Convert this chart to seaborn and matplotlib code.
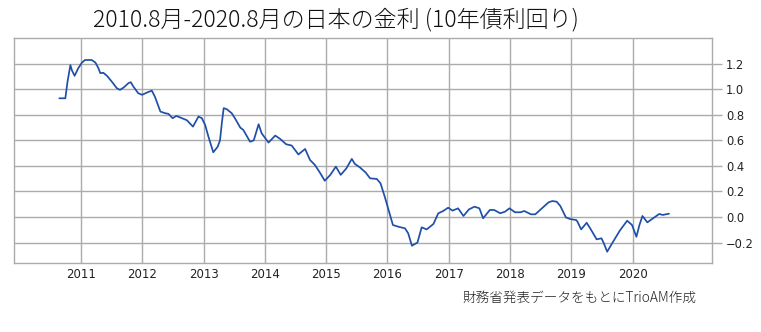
import matplotlib
matplotlib.use("Agg")
import matplotlib.pyplot as plt
import seaborn as sns
import pandas as pd

# ---- data ----
dates = [
    "2010-08-26", "2010-10-01", "2010-10-14", "2010-10-31", "2010-11-09", "2010-11-25", "2010-12-17",
    "2011-01-08", "2011-01-26", "2011-03-07", "2011-03-29", "2011-04-16", "2011-04-27", "2011-05-15",
    "2011-06-06", "2011-07-05", "2011-08-03", "2011-08-22", "2011-09-13", "2011-10-12", "2011-10-26",
    "2011-11-10", "2011-12-09", "2012-01-01", "2012-01-30", "2012-02-28", "2012-03-17", "2012-04-19",
    "2012-05-18", "2012-06-06", "2012-07-01", "2012-07-23", "2012-08-25", "2012-09-24", "2012-10-30",
    "2012-12-02", "2012-12-22", "2013-01-11", "2013-01-30", "2013-02-28", "2013-03-26", "2013-04-09",
    "2013-04-20", "2013-05-01", "2013-05-19", "2013-06-18", "2013-07-09", "2013-08-08", "2013-08-26",
    "2013-10-05", "2013-10-27", "2013-11-25", "2013-12-13", "2014-01-23", "2014-03-04", "2014-04-02",
    "2014-05-08", "2014-06-10", "2014-07-20", "2014-08-29", "2014-09-27", "2014-10-26", "2014-11-24",
    "2014-12-24", "2015-01-26", "2015-02-28", "2015-03-29", "2015-05-01", "2015-06-03", "2015-06-21",
    "2015-07-20", "2015-08-25", "2015-09-20", "2015-10-30", "2015-11-21", "2015-12-16", "2016-01-08",
    "2016-02-03", "2016-03-06", "2016-04-15", "2016-05-04", "2016-05-26", "2016-06-28", "2016-07-23",
    "2016-08-22", "2016-10-01", "2016-10-30", "2016-11-28", "2016-12-28", "2017-01-23", "2017-02-25",
    "2017-03-29", "2017-05-01", "2017-06-03", "2017-07-02", "2017-07-24", "2017-09-02", "2017-09-28",
    "2017-11-03", "2017-12-02", "2017-12-28", "2018-01-30", "2018-03-04", "2018-03-26", "2018-05-05",
    "2018-05-31", "2018-07-09", "2018-08-18", "2018-09-09", "2018-10-05", "2018-10-27", "2018-11-29",
    "2018-12-24", "2019-01-30", "2019-02-06", "2019-02-28", "2019-04-02", "2019-05-01", "2019-05-31",
    "2019-06-29", "2019-07-13", "2019-08-02", "2019-09-06", "2019-10-16", "2019-11-29", "2019-12-28",
    "2020-01-23", "2020-02-10", "2020-02-28", "2020-03-28", "2020-05-01", "2020-06-07", "2020-06-28",
    "2020-08-04",
]
yields = [
    0.93, 0.93, 1.06, 1.19, 1.15, 1.106, 1.166,
    1.21, 1.23, 1.23, 1.21, 1.166, 1.127, 1.13,
    1.106, 1.06, 1.01, 0.996, 1.014, 1.049, 1.056,
    1.022, 0.97, 0.957, 0.975, 0.99, 0.944, 0.826,
    0.813, 0.808, 0.774, 0.792, 0.774, 0.758, 0.708,
    0.787, 0.774, 0.72, 0.63, 0.507, 0.55, 0.60,
    0.735, 0.853, 0.845, 0.813, 0.769, 0.70, 0.682,
    0.59, 0.60, 0.727, 0.656, 0.583, 0.638, 0.612,
    0.57, 0.56, 0.49, 0.533, 0.447, 0.408, 0.350,
    0.284, 0.33, 0.395, 0.33, 0.38, 0.455, 0.416,
    0.39, 0.348, 0.303, 0.298, 0.264, 0.16, 0.055,
    -0.063, -0.076, -0.089, -0.128, -0.225, -0.20, -0.081,
    -0.097, -0.055, 0.029, 0.047, 0.073, 0.05, 0.068,
    0.008, 0.06, 0.081, 0.068, -0.01, 0.055, 0.055,
    0.029, 0.042, 0.068, 0.037, 0.037, 0.047, 0.021,
    0.021, 0.068, 0.115, 0.125, 0.12, 0.086, -0.003,
    -0.016, -0.024, -0.037, -0.097, -0.045, -0.107, -0.175,
    -0.167, -0.206, -0.272, -0.194, -0.107, -0.029, -0.063,
    -0.155, -0.063, 0.008, -0.042, -0.01, 0.024, 0.016,
    0.026,
]
year_ticks = ["2011", "2012", "2013", "2014", "2015", "2016", "2017", "2018", "2019", "2020"]
y_ticks = [-0.2, 0.0, 0.2, 0.4, 0.6, 0.8, 1.0, 1.2]

title = "2010.8月-2020.8月の日本の金利 (10年債利回り)"
footer = "財務省発表データをもとにTrioAM作成"

df = pd.DataFrame({"date": pd.to_datetime(dates), "yield": yields})

sns.set_theme(style="white")
plt.rcParams["font.family"] = ["DejaVu Sans"]
cjk = ["Noto Sans CJK JP", "DejaVu Sans"]

fig = plt.figure(figsize=(7.61, 3.32), dpi=100)
ax = fig.add_axes([14.3 / 761, 1 - 262.7 / 332, (712.3 - 14.3) / 761, (262.7 - 38.3) / 332])

sns.lineplot(data=df, x="date", y="yield", ax=ax, color="#1f4fa8", linewidth=1.25)

grid_c = "#ababab"
ax.set_xlim(pd.Timestamp("2009-12-01"), pd.Timestamp("2021-04-19"))
ax.set_ylim(-0.358, 1.40)
ax.set_xticks([pd.Timestamp(f"{y}-01-01") for y in year_ticks])
ax.set_xticklabels(year_ticks)
ax.set_yticks(y_ticks)
ax.set_yticklabels([f"{v:.1f}".replace("-", "\u2212") for v in y_ticks])
ax.yaxis.tick_right()
ax.grid(True, color=grid_c, linewidth=1.0)
for s in ax.spines.values():
    s.set_color(grid_c)
    s.set_linewidth(1.0)
ax.tick_params(axis="x", length=0, pad=4, labelsize=8.5, colors="#222222")
ax.tick_params(axis="y", which="both", right=True, left=False, length=7, width=1.0,
               color=grid_c, pad=3, labelsize=8.3, labelcolor="#222222")
ax.set_xlabel("")
ax.set_ylabel("")

fig.text(336 / 761, 1 - 20 / 332, title, ha="center", va="center", fontsize=16.6,
         family=cjk, fontweight="light", color="#111111")
fig.text(579 / 761, 1 - 298 / 332, footer, ha="center", va="center", fontsize=9.8,
         family=cjk, fontweight="light", color="#222222")

fig.savefig("out.png", dpi=100)
